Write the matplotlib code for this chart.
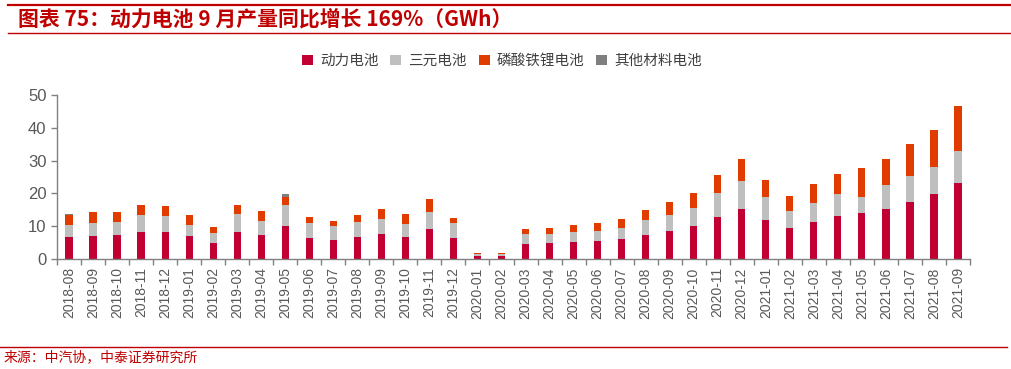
import matplotlib
matplotlib.use("Agg")
import matplotlib.pyplot as plt
import numpy as np
from matplotlib.lines import Line2D
from matplotlib.patches import Patch

plt.rcParams['font.family'] = ['Noto Sans CJK SC', 'DejaVu Sans']

months = ["2018-08", "2018-09", "2018-10", "2018-11", "2018-12",
          "2019-01", "2019-02", "2019-03", "2019-04", "2019-05", "2019-06",
          "2019-07", "2019-08", "2019-09", "2019-10", "2019-11", "2019-12",
          "2020-01", "2020-02", "2020-03", "2020-04", "2020-05", "2020-06",
          "2020-07", "2020-08", "2020-09", "2020-10", "2020-11", "2020-12",
          "2021-01", "2021-02", "2021-03", "2021-04", "2021-05", "2021-06",
          "2021-07", "2021-08", "2021-09"]

power = [6.8, 7.1, 7.3, 8.2, 8.1, 6.9, 4.9, 8.2, 7.3, 10.1, 6.5,
         5.8, 6.7, 7.6, 6.7, 9.0, 6.3, 0.9, 1.0, 4.6, 4.8, 5.3, 5.5,
         6.2, 7.4, 8.6, 10.1, 12.8, 15.2, 12.0, 9.6, 11.4, 13.1, 13.9, 15.2,
         17.5, 19.7, 23.3]
ternary = [3.7, 4.0, 4.0, 5.2, 4.9, 3.6, 2.9, 5.5, 4.3, 6.4, 4.4,
           4.3, 4.6, 4.7, 4.0, 5.4, 4.8, 0.5, 0.5, 3.1, 2.7, 2.9, 2.9,
           3.3, 4.4, 4.8, 5.4, 7.2, 8.5, 6.9, 5.0, 5.7, 6.6, 5.0, 7.5,
           7.9, 8.2, 9.7]
lfp = [3.0, 3.1, 3.0, 3.1, 3.1, 3.0, 2.0, 2.8, 3.0, 2.4, 2.0,
       1.4, 2.1, 2.9, 2.9, 3.9, 1.4, 0.4, 0.4, 1.3, 2.0, 2.3, 2.5,
       2.8, 3.2, 3.9, 4.5, 5.5, 6.7, 5.3, 4.5, 5.7, 6.2, 8.8, 7.7,
       9.8, 11.3, 13.7]
other = [0.1, 0.0, 0.0, 0.0, 0.0, 0.0, 0.0, 0.0, 0.0, 1.0, 0.0,
         0.0, 0.0, 0.0, 0.0, 0.0, 0.0, 0.0, 0.0, 0.0, 0.0, 0.0, 0.0,
         0.0, 0.0, 0.0, 0.0, 0.0, 0.0, 0.0, 0.0, 0.0, 0.0, 0.0, 0.0,
         0.0, 0.0, 0.0]

series_names = ["动力电池", "三元电池", "磷酸铁锂电池", "其他材料电池"]
colors = ["#C00033", "#BFBFBF", "#E03C00", "#7F7F7F"]

fig = plt.figure(figsize=(10.12, 3.69), dpi=100)
ax = fig.add_axes([57/1012, 1 - 259/369, (970-57)/1012, (259-95)/369])

x = np.arange(len(months))
bottom = np.zeros(len(months))
for vals, c in zip([power, ternary, lfp, other], colors):
    v = np.array(vals)
    ax.bar(x, v, width=0.3, bottom=bottom, color=c, linewidth=0)
    bottom += v

ax.set_ylim(0, 50)
ax.set_xlim(-0.5, len(months) - 0.5)
ax.set_yticks([0, 10, 20, 30, 40, 50])
ax.tick_params(axis='y', labelsize=12, colors='#595959', length=4, width=1, direction='out')
ax.set_xticks(x)
ax.set_xticklabels(months, rotation=90, fontsize=10, color='#595959', family='Liberation Sans')
ax.tick_params(axis='x', length=0, pad=6)
ax.set_xticks(np.arange(-0.5, len(months), 1), minor=True)
ax.tick_params(axis='x', which='minor', length=4, width=1, color='#808080', direction='out')
for lab in ax.get_yticklabels():
    lab.set_family('Liberation Sans')

for s in ['top', 'right']:
    ax.spines[s].set_visible(False)
for s in ['left', 'bottom']:
    ax.spines[s].set_color('#808080')
    ax.spines[s].set_linewidth(1)
ax.tick_params(axis='y', color='#808080')

# header lines and title
fig.add_artist(Line2D([0.008, 1.0], [1 - 5/369, 1 - 5/369], color='#C00000', lw=1.6))
fig.add_artist(Line2D([0.008, 1.0], [1 - 33/369, 1 - 33/369], color='#C00000', lw=1.0))
fig.text(18/1012, 1 - 19/369, "图表 75：动力电池 9 月产量同比增长 169%（GWh）",
         fontsize=15, fontweight='bold', style='italic', color='#C00000', va='center', ha='left')

handles = [Patch(facecolor=c, edgecolor='none') for c in colors]
fig.legend(handles, series_names, loc='center', bbox_to_anchor=(502/1012, 1 - 61/369), ncol=4,
           frameon=False, fontsize=10.5, handlelength=0.75, handleheight=0.75, handletextpad=0.5,
           columnspacing=0.8, labelcolor='#404040')

# footer
fig.add_artist(Line2D([0.0, 0.995], [1 - 347/369, 1 - 347/369], color='#C00000', lw=1.0))
fig.text(4/1012, 1 - 357/369, "来源：中汽协，中泰证券研究所", fontsize=10, color='#C00000',
         va='center', ha='left')

fig.savefig("out.png", dpi=100)
